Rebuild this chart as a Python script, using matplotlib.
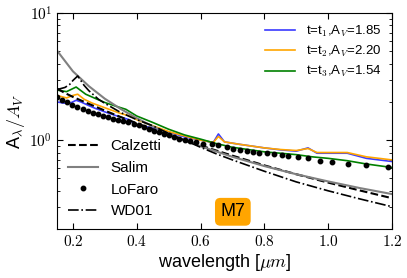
import math
import matplotlib
matplotlib.use("Agg")
import matplotlib.pyplot as plt
from matplotlib.ticker import FixedLocator, FuncFormatter, LogLocator, NullFormatter

plt.rcParams['font.family'] = ['Liberation Sans', 'DejaVu Sans']
plt.rcParams['mathtext.fontset'] = 'cm'

# ---- data ----
lofaro_wl = [0.150, 0.166, 0.182, 0.198, 0.214, 0.230, 0.246, 0.262, 0.278, 0.294,
             0.310, 0.326, 0.342, 0.358, 0.374, 0.390, 0.406, 0.422, 0.438, 0.454,
             0.470, 0.486, 0.502, 0.518, 0.534, 0.550, 0.566, 0.585,
             0.609, 0.635, 0.656, 0.682, 0.703, 0.724, 0.745, 0.763, 0.784, 0.807,
             0.830, 0.854, 0.875, 0.906, 0.938, 0.974, 1.011, 1.063, 1.118, 1.187]
lofaro_av = [2.20, 2.08, 1.98, 1.90, 1.83, 1.77, 1.71, 1.65, 1.60, 1.56,
             1.52, 1.48, 1.45, 1.41, 1.38, 1.35, 1.31, 1.27, 1.23, 1.19,
             1.16, 1.12, 1.09, 1.06, 1.03, 1.00, 0.98, 0.96,
             0.94, 0.93, 0.91, 0.877, 0.85, 0.83, 0.82, 0.81, 0.80, 0.79,
             0.775, 0.763, 0.755, 0.74, 0.72, 0.69, 0.68, 0.655, 0.635, 0.61]

calz_wl = [0.15, 0.175, 0.2, 0.25, 0.3, 0.35, 0.4, 0.45, 0.5, 0.55, 0.6, 0.7, 0.8, 0.9, 1.0, 1.1, 1.2]
calz_av = [2.55, 2.35, 2.19, 1.93, 1.71, 1.52, 1.36, 1.22, 1.10, 1.00, 0.908, 0.756, 0.634, 0.540, 0.464, 0.402, 0.350]

salim_wl = [0.15, 0.2, 0.25, 0.3, 0.35, 0.4, 0.45, 0.5, 0.55, 0.6, 0.7, 0.8, 0.9, 1.0, 1.1, 1.2]
salim_av = [5.07, 3.48, 2.66, 2.12, 1.76, 1.49, 1.285, 1.126, 1.0, 0.897, 0.74, 0.626, 0.54, 0.474, 0.42, 0.377]

wd01_wl = [0.15, 0.175, 0.19, 0.2, 0.215, 0.235, 0.25, 0.28, 0.3, 0.35, 0.4, 0.45, 0.5, 0.55,
           0.6, 0.65, 0.7, 0.8, 0.9, 1.0, 1.1, 1.2]
wd01_av = [2.50, 2.60, 2.75, 2.95, 3.20, 2.70, 2.45, 2.10, 1.95, 1.65, 1.45, 1.30, 1.13, 1.00,
           0.88, 0.78, 0.70, 0.57, 0.47, 0.40, 0.345, 0.30]

t1_wl = [0.15, 0.17, 0.19, 0.21, 0.225, 0.25, 0.27, 0.30, 0.335, 0.365, 0.38, 0.395, 0.42, 0.457,
         0.49, 0.52, 0.55, 0.60, 0.64, 0.656, 0.675, 0.72, 0.80, 0.85, 0.90, 0.937, 0.965, 1.0,
         1.06, 1.12, 1.2]
t1_av = [2.00, 1.96, 1.95, 2.06, 2.00, 1.87, 1.78, 1.67, 1.56, 1.48, 1.44, 1.31, 1.29, 1.24,
         1.18, 1.12, 1.06, 1.00, 0.96, 1.12, 0.97, 0.93, 0.87, 0.84, 0.82, 0.87, 0.79, 0.79,
         0.79, 0.72, 0.68]

t2_wl = [0.15, 0.18, 0.20, 0.215, 0.235, 0.26, 0.30, 0.35, 0.38, 0.40, 0.45, 0.50, 0.55, 0.60,
         0.64, 0.656, 0.675, 0.72, 0.80, 0.85, 0.90, 0.937, 0.965, 1.06, 1.12, 1.2]
t2_av = [2.25, 2.15, 2.25, 2.30, 2.10, 1.96, 1.80, 1.62, 1.55, 1.45, 1.30, 1.17, 1.08, 1.00,
         0.96, 1.07, 0.97, 0.93, 0.87, 0.845, 0.83, 0.86, 0.80, 0.80, 0.74, 0.70]

t3_wl = [0.15, 0.18, 0.21, 0.24, 0.272, 0.30, 0.335, 0.366, 0.40, 0.45, 0.50, 0.55, 0.60, 0.65,
         0.70, 0.80, 0.85, 0.90, 0.95, 1.00, 1.06, 1.12, 1.2]
t3_av = [2.48, 2.41, 2.62, 2.30, 2.12, 1.98, 1.85, 1.75, 1.55, 1.38, 1.22, 1.10, 1.02, 0.94,
         0.88, 0.81, 0.79, 0.77, 0.74, 0.72, 0.69, 0.65, 0.61]

series_labels = [r't=t$_1$,A$_V$=1.85', r't=t$_2$,A$_V$=2.20', r't=t$_3$,A$_V$=1.54']
x_ticks = [0.2, 0.4, 0.6, 0.8, 1.0, 1.2]
panel_label = 'M7'

# ---- figure ----
fig = plt.figure(figsize=(4.07, 2.78), dpi=100)
ax = fig.add_axes([0.140, 0.176, 0.823, 0.777])

h1, = ax.plot(t1_wl, t1_av, color='#3a3aff', lw=1.2, label=series_labels[0])
h2, = ax.plot(t2_wl, t2_av, color='orange', lw=1.2, label=series_labels[1])
h3, = ax.plot(t3_wl, t3_av, color='green', lw=1.2, label=series_labels[2])

hc, = ax.plot(calz_wl, calz_av, color='black', ls='--', lw=1.5, label='Calzetti')
hs, = ax.plot(salim_wl, salim_av, color='gray', ls='-', lw=1.5, label='Salim')
hl, = ax.plot(lofaro_wl, lofaro_av, color='black', ls='none', marker='o', ms=3.2, label='LoFaro')
hw, = ax.plot(wd01_wl, wd01_av, color='black', ls='-.', lw=1.2, label='WD01')

ax.set_yscale('log')
ax.set_xlim(0.15, 1.2)
ax.set_ylim(0.2, 10)

ax.xaxis.set_major_locator(FixedLocator(x_ticks))
ax.xaxis.set_major_formatter(FuncFormatter(lambda v, p: r'$%.1f$' % v))
ax.yaxis.set_major_locator(LogLocator(base=10))
ax.yaxis.set_major_formatter(FuncFormatter(lambda v, p: r'$10^{%d}$' % round(math.log10(v))))
ax.yaxis.set_minor_locator(LogLocator(base=10, subs=range(2, 10)))
ax.yaxis.set_minor_formatter(NullFormatter())
ax.tick_params(which='both', direction='in', top=True, right=True, labelsize=11)
ax.tick_params(which='major', length=4)
ax.tick_params(which='minor', length=2)

ax.set_xlabel(r'wavelength [$\mu m$]', fontsize=13, labelpad=2)
ax.set_ylabel(r'A$_\lambda/A_V$', fontsize=13, labelpad=2)

leg1 = ax.legend(handles=[h1, h2, h3], loc='upper right', frameon=False, fontsize=9.5,
                 handlelength=2.3, handletextpad=0.8, labelspacing=0.38, borderaxespad=0.4)
ax.add_artist(leg1)
ax.legend(handles=[hc, hs, hl, hw], loc='lower left', frameon=False, fontsize=11,
          handlelength=2.0, handletextpad=0.8, labelspacing=0.5, borderaxespad=0.3)

ax.text(0.525, 0.08, panel_label, transform=ax.transAxes, fontsize=13, ha='center', va='center',
        bbox=dict(boxstyle='round,pad=0.3', fc='orange', ec='none'))

fig.savefig('out.png', dpi=100)
